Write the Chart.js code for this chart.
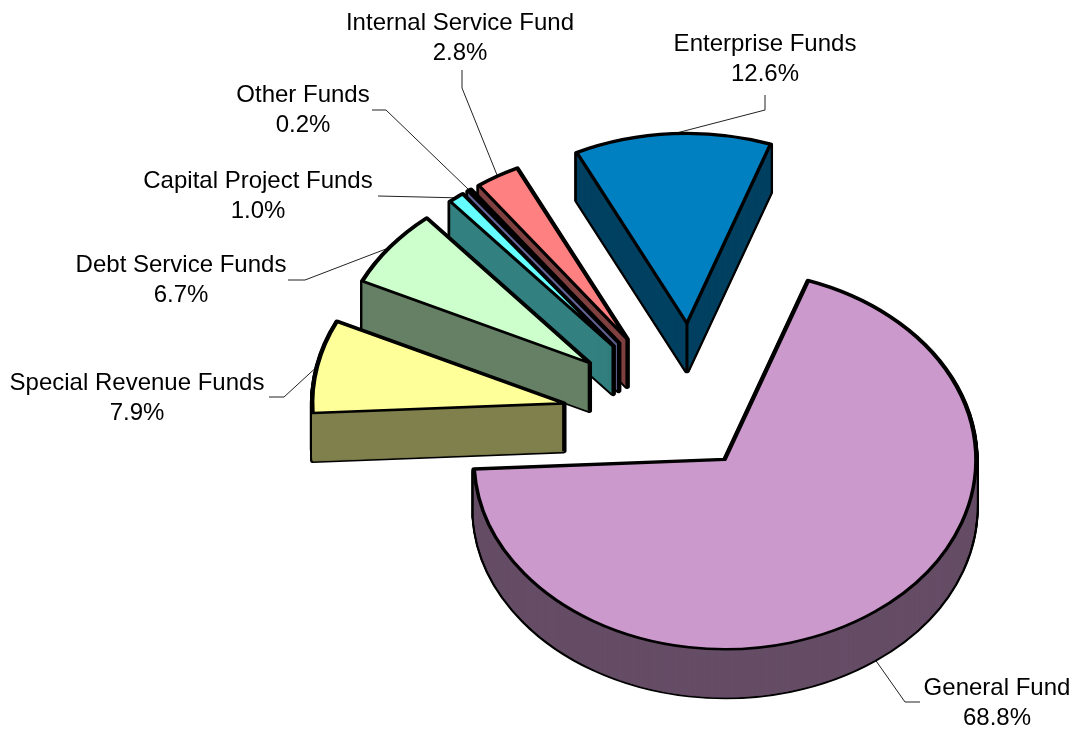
<!DOCTYPE html>
<html>
<head>
<meta charset="utf-8">
<title>Funds</title>
<script src="https://cdn.jsdelivr.net/npm/chart.js@4/dist/chart.umd.min.js"></script>
<style>
html, body { margin: 0; padding: 0; background: #fff; }
canvas { display: block; }
</style>
</head>
<body>
<canvas id="chart" width="1079" height="731"></canvas>
<script>
const funds = ['General Fund', 'Special Revenue Funds', 'Debt Service Funds', 'Capital Project Funds', 'Other Funds', 'Internal Service Fund', 'Enterprise Funds']
const shares = [68.8, 7.9, 6.7, 1.0, 0.2, 2.8, 12.6]

const topColors = ['#CC99CC', '#FFFF99', '#CCFFCC', '#66FFFF', '#9999FF', '#FF8080', '#0080C0']
const sideColors = ['#664D66', '#80804D', '#668066', '#338080', '#666699', '#804040', '#004060']
const explode = [50, 136, 136, 138, 139, 140, 141]
// small fix per slice, the original has some perspective that a flat pie doesn't
const nudge = [[0, 0], [2, -6], [2, -4], [4, -2], [6, -2], [4, 0], [0, 0]]

// where each label sits + leader line points (elbow, end) in page pixels
const labelSpots = [
  { x: 997, y: 688, elbow: [905, 702], end: [920, 702] },
  { x: 137, y: 383, elbow: [284, 397], end: [269, 397] },
  { x: 181, y: 265, elbow: [305, 280], end: [288, 280] },
  { x: 258, y: 181, elbow: [378, 196], end: [378, 196] },
  { x: 303, y: 95, elbow: [386, 110], end: [372, 110] },
  { x: 460, y: 23, elbow: [462, 88], end: [462, 70] },
  { x: 765, y: 44, elbow: [765, 110], end: [765, 95] }
]

const tilt = 0.755
const depth = 48

function midAngle(arc) {
  return (arc.startAngle + arc.endAngle) / 2
}

function drawWall(ctx, arc, i) {
  const real = arc.options
  const step = (opts) => {
    arc.options = Object.assign({}, real, opts)
    for (let d = depth; d >= 0; d--) {
      ctx.save()
      ctx.translate(0, d / tilt)
      arc.draw(ctx)
      ctx.restore()
    }
  }
  step({ backgroundColor: '#000', borderColor: '#000', borderWidth: 5.5 })
  step({ backgroundColor: sideColors[i], borderColor: sideColors[i], borderWidth: 1 })
  arc.options = real

  // edge under the point of the slice
  ctx.beginPath()
  ctx.moveTo(arc.x, arc.y)
  ctx.lineTo(arc.x, arc.y + depth / tilt)
  ctx.lineWidth = 3
  ctx.strokeStyle = '#000'
  ctx.stroke()
}

function drawLabels(chart, arcs) {
  const ctx = chart.ctx
  const cy = (chart.chartArea.top + chart.chartArea.bottom) / 2
  ctx.save()
  arcs.forEach((arc, i) => {
    const spot = labelSpots[i]
    const a = midAngle(arc)
    const rimX = arc.x + Math.cos(a) * arc.outerRadius
    let rimY = cy + (arc.y + Math.sin(a) * arc.outerRadius - cy) * tilt
    if (Math.sin(a) > 0) rimY += depth

    ctx.beginPath()
    ctx.moveTo(rimX, rimY)
    ctx.lineTo(spot.elbow[0], spot.elbow[1])
    ctx.lineTo(spot.end[0], spot.end[1])
    ctx.lineWidth = 1
    ctx.strokeStyle = '#222'
    ctx.stroke()

    ctx.fillStyle = '#000'
    ctx.font = '24px "Liberation Sans", Arial, sans-serif'
    ctx.textAlign = 'center'
    ctx.textBaseline = 'middle'
    ctx.fillText(funds[i], spot.x, spot.y)
    ctx.fillText(shares[i].toFixed(1) + '%', spot.x, spot.y + 30)
  })
  ctx.restore()
}

const pie3d = {
  id: 'pie3d',
  afterDatasetUpdate(chart, args) {
    args.meta.data.forEach((arc, i) => {
      const a = midAngle(arc)
      arc.x += Math.cos(a) * explode[i] + nudge[i][0]
      arc.y += Math.sin(a) * explode[i] + nudge[i][1] / tilt
    })
  },
  beforeDatasetDraw(chart, args) {
    const ctx = chart.ctx
    const arcs = args.meta.data
    const cy = (chart.chartArea.top + chart.chartArea.bottom) / 2
    drawLabels(chart, arcs)
    ctx.save()
    ctx.translate(0, cy)
    ctx.scale(1, tilt)
    ctx.translate(0, -cy)
    for (let i = arcs.length - 1; i >= 0; i--) {
      drawWall(ctx, arcs[i], i)
    }
  },
  afterDatasetDraw(chart) {
    chart.ctx.restore()
  }
}

new Chart(document.querySelector('#chart'), {
  type: 'pie',
  data: {
    labels: funds,
    datasets: [{
      data: shares,
      backgroundColor: topColors,
      borderColor: '#000',
      borderWidth: 3.5,
      borderJoinStyle: 'round',
      clip: false
    }]
  },
  options: {
    responsive: false,
    devicePixelRatio: 1,
    animation: false,
    events: [],
    rotation: 19.4,
    radius: 251,
    layout: { padding: { left: 311, top: 128 } },
    plugins: { legend: { display: false }, tooltip: { enabled: false } }
  },
  plugins: [pie3d]
})
</script>
</body>
</html>
